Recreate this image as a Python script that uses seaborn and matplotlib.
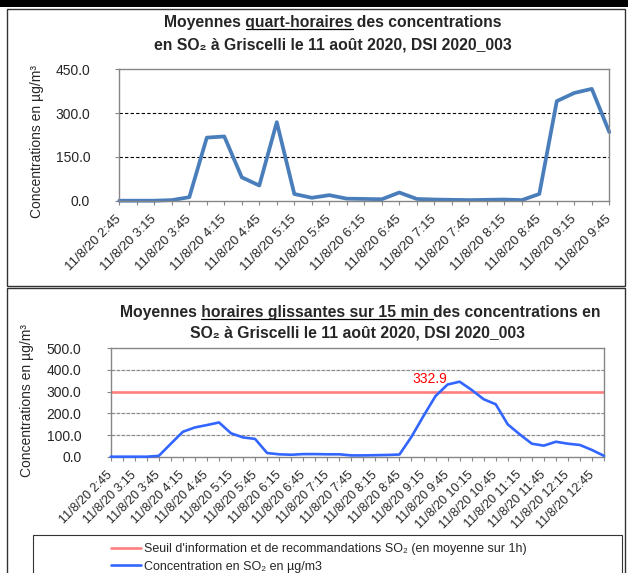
import matplotlib
matplotlib.use('Agg')
import matplotlib.pyplot as plt
import seaborn as sns
import pandas as pd
from matplotlib.lines import Line2D
from matplotlib.patches import Rectangle
from matplotlib.ticker import FormatStrFormatter

# données
heures_qh = ["2:45", "3:00", "3:15", "3:30", "3:45", "4:00", "4:15", "4:30", "4:45", "5:00",
             "5:15", "5:30", "5:45", "6:00", "6:15", "6:30", "6:45", "7:00", "7:15", "7:30",
             "7:45", "8:00", "8:15", "8:30", "8:45", "9:00", "9:15", "9:30", "9:45"]
conc_qh = [0, 0, 0, 2, 12, 216, 220, 80, 52, 269,
           23, 10, 19, 7, 6, 5, 28, 6, 4, 3,
           2, 3, 4, 2, 23, 341, 369, 383, 235]

heures_glis = ["2:45", "3:00", "3:15", "3:30", "3:45", "4:00", "4:15", "4:30", "4:45", "5:00",
               "5:15", "5:30", "5:45", "6:00", "6:15", "6:30", "6:45", "7:00", "7:15", "7:30",
               "7:45", "8:00", "8:15", "8:30", "8:45", "9:00", "9:15", "9:30", "9:45", "10:00",
               "10:15", "10:30", "10:45", "11:00", "11:15", "11:30", "11:45", "12:00", "12:15", "12:30",
               "12:45", "13:00"]
conc_glis = [0, 0, 0, 0, 4, 60, 115, 135, 146, 158,
             108, 89, 82, 17, 11, 9, 12, 12, 11, 11,
             6, 6, 7, 8, 10, 92, 188, 280, 332.9, 346,
             308, 265, 242, 149, 103, 60, 51, 69, 60, 54,
             31, 4]
seuil = 300
jour = "11/8/20 "

sns.set_style('white')
FONT = ['Liberation Sans', 'DejaVu Sans']
plt.rcParams['font.family'] = FONT

W, H = 628, 573
fig = plt.figure(figsize=(W / 100, H / 100), dpi=100)


def X(px):
    return px / W


def Y(py):
    return 1 - py / H


# cadres de la page
fig.add_artist(Rectangle((0, Y(6.5)), 1, 6.5 / H, transform=fig.transFigure, color='black', lw=0))
fig.add_artist(Rectangle((X(7), Y(285.5)), X(625) - X(7), (285.5 - 9) / H, transform=fig.transFigure,
                         fill=False, edgecolor='#333333', lw=1))
fig.add_artist(Rectangle((X(7), Y(620)), X(625) - X(7), (620 - 288) / H, transform=fig.transFigure,
                         fill=False, edgecolor='#333333', lw=1))


def titre(cx, y, parts, size=11.3):
    # une ligne de titre centrée avec une partie soulignée
    full = ''.join(p for p, _ in parts)
    t = fig.text(X(cx), Y(y), full, ha='center', va='baseline', fontsize=size,
                 fontweight='bold', family=FONT)
    r = fig.canvas.get_renderer()

    def largeur(s):
        tmp = fig.text(0, 0, s + 'x', fontsize=size, fontweight='bold', family=FONT)
        tmp2 = fig.text(0, 0, 'x', fontsize=size, fontweight='bold', family=FONT)
        w = tmp.get_window_extent(r).width - tmp2.get_window_extent(r).width
        tmp.remove()
        tmp2.remove()
        return w

    bb = t.get_window_extent(r)
    debut = ''
    for p, ul in parts:
        if ul:
            x0 = bb.x0 + largeur(debut)
            x1 = bb.x0 + largeur(debut + p)
            yy = Y(y) * H - 2
            fig.add_artist(Line2D([x0 / W, x1 / W], [yy / H, yy / H], transform=fig.transFigure,
                                  color='black', lw=0.9))
        debut += p


def habiller(ax, heures, ymax, ystep):
    ax.set_xlim(0, len(heures) - 1)
    ax.set_ylim(0, ymax)
    ax.set_yticks(range(0, ymax + 1, ystep))
    ax.yaxis.set_major_formatter(FormatStrFormatter('%.1f'))
    ax.set_xticks(range(len(heures)))
    ax.set_xticklabels([jour + h if i % 2 == 0 else '' for i, h in enumerate(heures)],
                       rotation=45, ha='right', va='center', rotation_mode='anchor')
    for s in ax.spines.values():
        s.set_color('#868686')
        s.set_linewidth(1.0)
    ax.tick_params(axis='both', direction='out', length=3, width=0.8, color='#868686',
                   left=True, bottom=True)
    ax.set_xlabel('')
    ax.set_ylabel('Concentrations en µg/m³', fontsize=10)


# ---- graphique du haut : moyennes quart-horaires
ax1 = fig.add_axes([X(119.3), Y(200.7), X(609.3) - X(119.3), (200.7 - 69.3) / H])
df1 = pd.DataFrame({'i': range(len(heures_qh)), 'conc': conc_qh})
sns.lineplot(data=df1, x='i', y='conc', ax=ax1, color='#4A7EBB', lw=2.7, clip_on=False)
habiller(ax1, heures_qh, 450, 150)
for v in [150, 300]:
    ax1.axhline(v, color='black', lw=0.8, ls=(0, (3, 2)), zorder=0)
ax1.tick_params(axis='x', labelsize=9.5, pad=9)
ax1.tick_params(axis='y', labelsize=10, pad=18)
ax1.yaxis.set_label_coords(-0.153, 0.45)

titre(333, 27, [("Moyennes ", False), ("quart-horaires", True), (" des concentrations", False)])
titre(333, 49, [("en SO₂ à Griscelli le 11 août 2020, DSI 2020_003", False)])

# ---- graphique du bas : moyennes horaires glissantes
ax2 = fig.add_axes([X(110.7), Y(456.7), X(604) - X(110.7), (456.7 - 348.3) / H])
df2 = pd.DataFrame({'i': range(len(heures_glis)), 'conc': conc_glis})
ax2.axhline(seuil, color='#FF7F7F', lw=1.9, zorder=2,
            label="Seuil d'information et de recommandations SO₂ (en moyenne sur 1h)")
sns.lineplot(data=df2, x='i', y='conc', ax=ax2, color='#3366FF', lw=1.9, clip_on=False,
             label='Concentration en SO₂ en µg/m3', zorder=3)
habiller(ax2, heures_glis, 500, 100)
for v in [100, 200, 400]:
    ax2.axhline(v, color='#8C8C8C', lw=0.9, ls=(0, (3, 1)), zorder=0)
ax2.tick_params(axis='x', labelsize=9, pad=9)
ax2.tick_params(axis='y', labelsize=10, pad=18)
ax2.yaxis.set_label_coords(-0.155, 0.52)
imax = 28
ax2.annotate('332.9', (imax, conc_glis[imax]), xytext=(-13, -1), textcoords='offset points',
             ha='center', va='bottom', color='#FF0000', fontsize=10)

titre(360, 317, [("Moyennes ", False), ("horaires glissantes sur 15 min ", True),
                 ("des concentrations en", False)])
titre(357, 337, [("SO₂ à Griscelli le 11 août 2020, DSI 2020_003", False)])

# légende dans un cadre
handles, labels = ax2.get_legend_handles_labels()
if ax2.get_legend():
    ax2.get_legend().remove()
fig.add_artist(Rectangle((X(33), Y(600)), X(622) - X(33), (600 - 535) / H, transform=fig.transFigure,
                         fill=False, edgecolor='#333333', lw=0.8))
fig.legend(handles, labels, loc='upper left', bbox_to_anchor=(X(106), Y(538)), frameon=False,
           fontsize=9, handlelength=2.4, handletextpad=0.2, labelspacing=0.45, borderaxespad=0)

fig.savefig('out.png', dpi=100)
